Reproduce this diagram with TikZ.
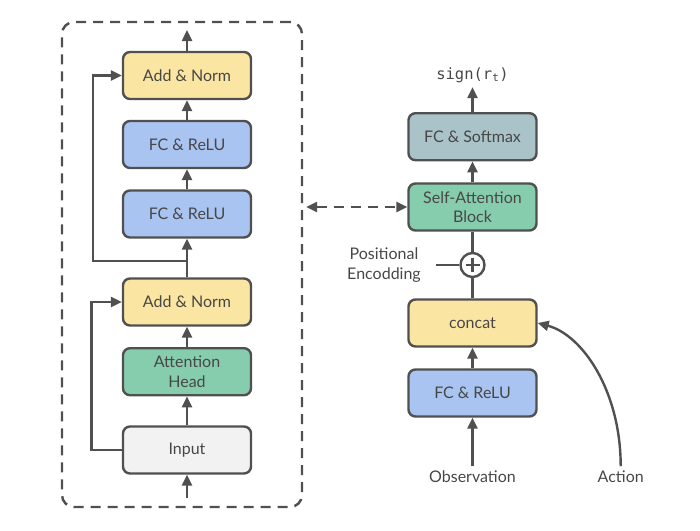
\documentclass[tikz,border=0pt]{standalone}
\usepackage{fontspec}
\setmainfont{Lato}
\setmonofont{DejaVu Sans Mono}
\usetikzlibrary{positioning,arrows.meta}
\definecolor{linegray}{HTML}{505050}
\definecolor{textgray}{HTML}{474747}
\definecolor{normyellow}{HTML}{FBE5A2}
\definecolor{relublue}{HTML}{A9C4F0}
\definecolor{headgreen}{HTML}{86CDAE}
\definecolor{inputgray}{HTML}{F2F2F2}
\definecolor{softmaxgray}{HTML}{A9C3C8}

\begin{document}
\begin{tikzpicture}[x=1pt, y=-1pt, -{Triangle[length=11pt,width=10pt]}, node distance = 69.5pt and 69.5pt, on grid, line width=2.4pt, color=linegray, text=textgray, font=\fontsize{16}{19.6}\selectfont,
  block/.style={draw=linegray, rounded corners=7pt, minimum width=128pt, minimum height=47pt, align=center, inner sep=0pt},
  plain/.style={align=center}]
\useasboundingbox (0,0) rectangle (700,530);
			 % encoder block
			 \node [draw=linegray, dash pattern=on 10pt off 7pt, rounded corners=12pt, minimum width=240pt, minimum height=485pt] (encoder) at (182,264.5) {};
			 \node [block, fill=inputgray] (input) at (187,450) {Input};
			 \node [block, fill=headgreen] (head) [above=78.3pt of input] {Attention\\Head};
			 \node [block, fill=normyellow] (normA) [above=69.7pt of head] {Add \& Norm};
			 \node [block, fill=relublue] (reluA) [above=88pt of normA] {FC \& ReLU};
			 \node [block, fill=relublue] (reluB) [above=of reluA] {FC \& ReLU};
			 \node [block, fill=normyellow] (normB) [above=69pt of reluB] {Add \& Norm};
			 \coordinate (inlet) at (187,498);
			 \coordinate (outlet) at (187,30);
			 \coordinate (branch) at (187,260.7);
			 \path (inlet) edge (input);
			 \path (input) edge (head);
			 \path (head) edge (normA);
			 \path (normA) edge (reluA);
			 \path (reluA) edge (reluB);
			 \path (reluB) edge (normB);
			 \path (normB) edge (outlet);
			 \draw (input.west) -- ++(-30.3,0) |- (normA.west);
			 \draw (branch) -- ++(-94.3,0) |- (normB.west);
			 % policy head
			 \node [block, fill=relublue] (relu) at (472.5,393) {FC \& ReLU};
			 \node [block, fill=normyellow] (concat) [above=70pt of relu] {concat};
			 \node [circle, draw=linegray, minimum size=24pt, inner sep=0pt,
			   path picture={\draw[-] ([xshift=-7pt]path picture bounding box.center) -- ([xshift=7pt]path picture bounding box.center)
			     ([yshift=-7pt]path picture bounding box.center) -- ([yshift=7pt]path picture bounding box.center);}] (plus) [above=58pt of concat] {};
			 \node [block, fill=headgreen] (selfatt) [above=58pt of plus] {Self-Attention\\Block};
			 \node [block, fill=softmaxgray] (softmax) [above=70.3pt of selfatt] {FC \& Softmax};
			 \node [plain, font=\fontsize{15.5}{18}\selectfont\ttfamily] (sign) [above=61.7pt of softmax] {sign(r\textsubscript{t})};
			 \node [plain] (posenc) at (384,265) {Positional\\Encodding};
			 \node [plain] (obs) at (472.5,476.7) {Observation};
			 \node [plain] (action) at (620.7,476.7) {Action};
			 \path (obs) edge (relu);
			 \path (relu) edge (concat);
			 \draw[-] (concat) -- (plus);
			 \draw[-] (plus) -- (selfatt);
			 \path (selfatt) edge (softmax);
			 \path (softmax) edge (sign);
			 \draw[-] ([xshift=11pt]posenc.east) -- (plus);
			 \draw (action.north) .. controls +(0,-75) and +(45,12) .. (concat.east);
			 \draw[{Triangle[length=11pt,width=10pt]}-{Triangle[length=11pt,width=10pt]}, dash pattern=on 10pt off 7pt] ([xshift=3pt]encoder.east |- selfatt.west) -- (selfatt.west);
		\end{tikzpicture}
\end{document}
